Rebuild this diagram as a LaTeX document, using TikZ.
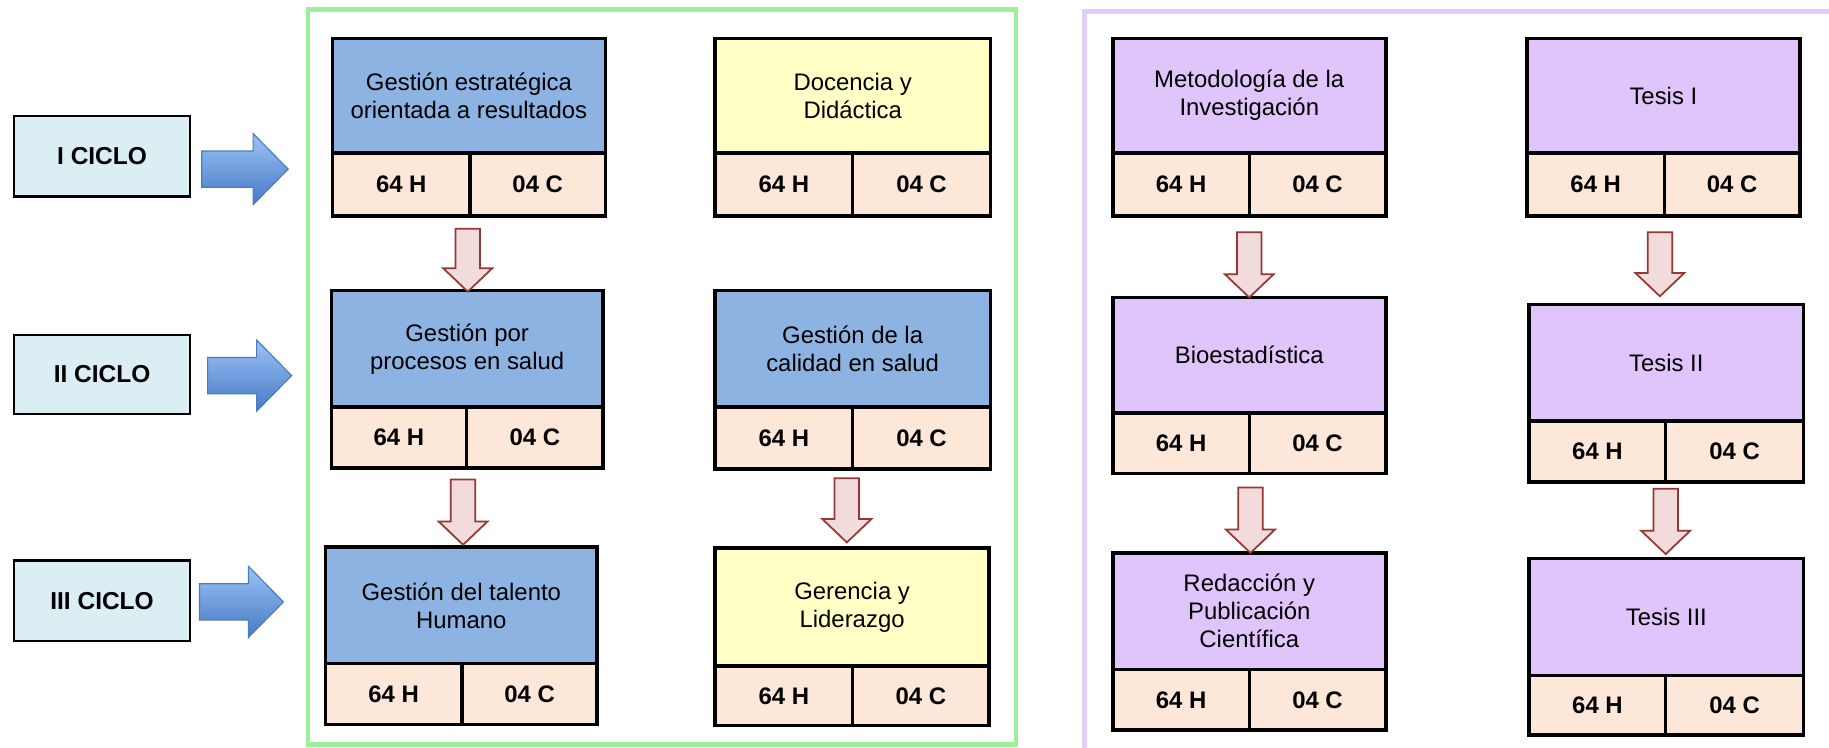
\documentclass[tikz,border=0pt]{standalone}
\usepackage{fontspec}
\setmainfont{Liberation Sans}
\usetikzlibrary{calc}
\definecolor{blueF}{HTML}{8DB3E2}
\definecolor{yelF}{HTML}{FFFFC6}
\definecolor{purF}{HTML}{E0C4FC}
\definecolor{peachF}{HTML}{FCE7D9}
\definecolor{cycF}{HTML}{DBEEF3}
\definecolor{grnL}{HTML}{9CF09C}
\definecolor{purL}{HTML}{E2CCFA}
\definecolor{arrF}{HTML}{F2DCDB}
\definecolor{arrD}{HTML}{953735}
\definecolor{rtTop}{HTML}{9CC3F7}
\definecolor{rtBot}{HTML}{4679C4}
\definecolor{rtD}{HTML}{4A7EBB}
\tikzset{
 titlebox/.style={draw=black, line width=3pt, inner sep=0pt, outer sep=0pt, align=center, font=\fontsize{20.5}{24}\selectfont},
 cellbox/.style={draw=black, line width=3pt, fill=peachF, inner sep=0pt, outer sep=0pt, font=\fontsize{20.5}{24}\selectfont\bfseries},
 ciclo/.style={draw=black, line width=2pt, fill=cycF, inner sep=0pt, font=\fontsize{21}{25}\selectfont\bfseries},
 dnarr/.style={draw=arrD, line width=1.5pt, fill=arrF, line join=miter},
 rtarr/.style={draw=rtD, line width=1pt, top color=rtTop, bottom color=rtBot, line join=miter},
 frameG/.style={draw=grnL, line width=4pt},
 frameP/.style={draw=purL, line width=4pt}
}
% name, x1, x2, ytop, ysplit, ybot, xdiv, fill, text
\newcommand\course[9]{%
 \node[titlebox, fill=#8, minimum width={(#3-#2)*1pt}, minimum height={(#5-#4)*1pt}] (#1) at ({(#2+#3)/2},{(#4+#5)/2}) {#9};
 \node[cellbox, minimum width={(#7-#2)*1pt}, minimum height={(#6-#5)*1pt}] (#1h) at ({(#2+#7)/2},{(#5+#6)/2}) {64 H};
 \node[cellbox, minimum width={(#3-#7)*1pt}, minimum height={(#6-#5)*1pt}] (#1c) at ({(#7+#3)/2},{(#5+#6)/2}) {04 C};
}
% x, ytop, ytip
\newcommand\dnarrow[3]{%
 \draw[dnarr] ({#1-10.5},#2) -- ({#1+10.5},#2) -- ({#1+10.5},{#3-20}) -- ({#1+21},{#3-20}) -- (#1,#3) -- ({#1-21},{#3-20}) -- ({#1-10.5},{#3-20}) -- cycle;}
% x1, x2, yc
\newcommand\rtarrow[3]{%
 \draw[rtarr] (#1,{#3-15.5}) -- ({#2-30},{#3-15.5}) -- ({#2-30},{#3-30.5}) -- (#2,#3) -- ({#2-30},{#3+30.5}) -- ({#2-30},{#3+15.5}) -- (#1,{#3+15.5}) -- cycle;}
\begin{document}
\begin{tikzpicture}[x=1pt,y=-1pt]
\useasboundingbox (0,0) rectangle (1568,641);
\begin{scope}
\clip (0,0) rectangle (1568,641);
\fill[white] (0,0) rectangle (1568,641);
\draw[frameG] (264,8) rectangle (871,638);
\draw[frameP] (1600,10) -- (930,10) -- (930,680);
\end{scope}
% ciclos
\node[ciclo, minimum width=151pt, minimum height=69pt] (c1) at (87.5,134) {I CICLO};
\node[ciclo, minimum width=151pt, minimum height=68pt] (c2) at (87.5,321) {II CICLO};
\node[ciclo, minimum width=151pt, minimum height=69pt] (c3) at (87.5,515) {III CICLO};
\rtarrow{173}{247}{145}
\rtarrow{178}{250}{322}
\rtarrow{171}{243}{516}
% courses
\course{A}{285}{519}{33}{131}{185}{403}{blueF}{Gestión estratégica\\orientada a resultados}
\course{B}{613}{849}{33}{131}{185}{731}{yelF}{Docencia y\\Didáctica}
\course{C}{284}{517}{249}{349}{401}{400}{blueF}{Gestión por\\procesos en salud}
\course{D}{613}{849}{249}{349}{402}{731}{blueF}{Gestión de la\\calidad en salud}
\course{E}{279}{512}{469}{569}{621}{396}{blueF}{Gestión del talento\\Humano}
\course{F}{613}{848}{470}{571}{622}{731}{yelF}{Gerencia y\\Liderazgo}
\course{G}{954}{1188}{33}{131}{185}{1071}{purF}{Metodología de la\\Investigación}
\course{H}{1309}{1543}{33}{131}{185}{1427}{purF}{Tesis I}
\course{I}{954}{1188}{255}{354}{406}{1071}{purF}{Bioestadística}
\course{J}{1311}{1546}{261}{361}{413}{1428}{purF}{Tesis II}
\course{K}{954}{1188}{474}{574}{626}{1071}{purF}{Redacción y\\Publicación\\Científica}
\course{L}{1311}{1546}{479}{579}{630}{1428}{purF}{Tesis III}
% down arrows
\dnarrow{401}{196}{250}
\dnarrow{397}{411}{467}
\dnarrow{726}{410}{465}
\dnarrow{1071}{199}{255}
\dnarrow{1423}{199}{254}
\dnarrow{1072}{418}{474}
\dnarrow{1428}{419}{475}
\end{tikzpicture}
\end{document}
